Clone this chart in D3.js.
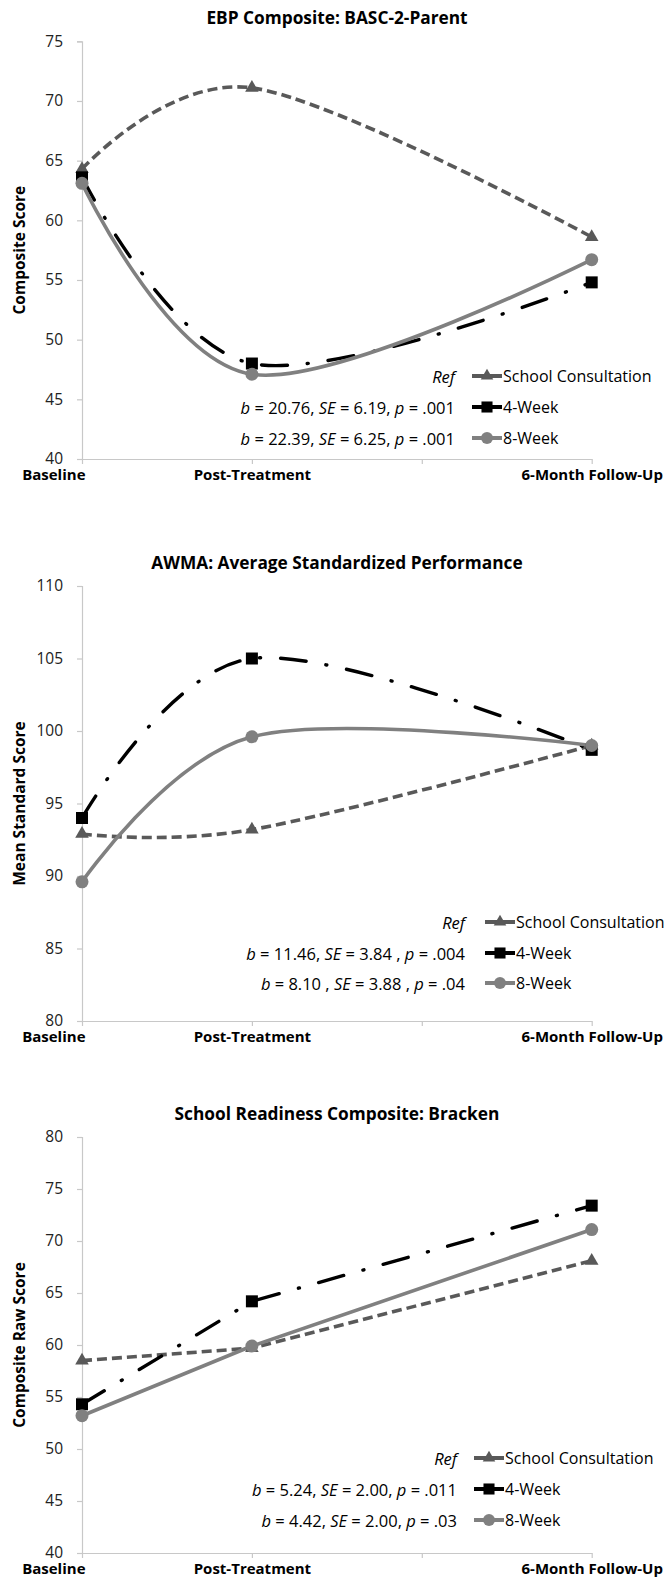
<!DOCTYPE html>
<html>
<head>
<meta charset="utf-8">
<script src="https://cdn.jsdelivr.net/npm/d3@7"></script>
<style>
  body { margin: 0; background: #fff; }
  svg { display: block; font-family: "Open Sans", "Noto Sans", sans-serif; }
</style>
</head>
<body>
<div class="main-container"></div>
<script>
// time points and groups
const timepoints = ["Baseline", "Post-Treatment", "6-Month Follow-Up"];
const timeX = [0, 1, 3];
const groups = ["School Consultation", "4-Week", "8-Week"];

// EBP composite (BASC-2 parent)
const ebpSchool = [64.3, 71.1, 58.6];
const ebp4Week = [63.6, 48.0, 54.8];
const ebp8Week = [63.1, 47.1, 56.7];
const ebpStats = ["Ref", "b = 20.76, SE = 6.19, p = .001", "b = 22.39, SE = 6.25, p = .001"];

// AWMA average standardized performance
const awmaSchool = [92.9, 93.2, 99.0];
const awma4Week = [94.0, 105.0, 98.7];
const awma8Week = [89.6, 99.6, 99.0];
const awmaStats = ["Ref", "b = 11.46, SE = 3.84 , p = .004", "b = 8.10 , SE = 3.88 , p = .04"];

// Bracken school readiness composite
const brackenSchool = [58.5, 59.7, 68.1];
const bracken4Week = [54.3, 64.2, 73.4];
const bracken8Week = [53.2, 59.9, 71.1];
const brackenStats = ["Ref", "b = 5.24, SE = 2.00, p = .011", "b = 4.42, SE = 2.00, p = .03"];

const ebpTicks = d3.range(40, 76, 5);
const awmaTicks = d3.range(80, 111, 5);
const brackenTicks = d3.range(40, 81, 5);

// series styling
const styles = [
  {color: "#595959", dash: "10 5", width: 3.6, cap: "butt", symbol: d3.symbolTriangle, size: 80},
  {color: "#000000", dash: "26 20 1 20", width: 3.4, cap: "round", symbol: d3.symbolSquare, size: 144},
  {color: "#808080", dash: null, width: 3.6, cap: "butt", symbol: d3.symbolCircle, size: 133}
];

const width = 667, height = 1581;
const svg = d3.select('.main-container').append('svg')
  .attr('width', width).attr('height', height);

const x = d3.scaleLinear().domain([0, 3]).range([82, 591.7]);

const panels = [
  {title: "EBP Composite: BASC-2-Parent", yLabel: "Composite Score", ticks: ebpTicks,
   top: 41.3, bottom: 459, smooth: true, series: [ebpSchool, ebp4Week, ebp8Week],
   stats: ebpStats, statX: 455, legendX: 472, rows: [376, 407, 438]},
  {title: "AWMA: Average Standardized Performance", yLabel: "Mean Standard Score", ticks: awmaTicks,
   top: 586, bottom: 1021, smooth: true, series: [awmaSchool, awma4Week, awma8Week],
   stats: awmaStats, statX: 465, legendX: 485, rows: [922, 953, 983]},
  {title: "School Readiness Composite: Bracken", yLabel: "Composite Raw Score", ticks: brackenTicks,
   top: 1137, bottom: 1553, smooth: false, series: [brackenSchool, bracken4Week, bracken8Week],
   stats: brackenStats, statX: 457, legendX: 474, rows: [1458, 1489, 1520]}
];

function drawPanel(p) {
  const g = svg.append('g');
  const y = d3.scaleLinear().domain(d3.extent(p.ticks)).range([p.bottom, p.top]);

  // title
  g.append('text')
    .attr('x', 337).attr('y', p.top - 24)
    .attr('text-anchor', 'middle').attr('dominant-baseline', 'central')
    .attr('font-size', 17.3).attr('font-weight', 'bold').attr('fill', '#000')
    .text(p.title);

  // y axis
  const ya = g.append('g').attr('transform', `translate(${x(0)},0)`)
    .call(d3.axisLeft(y).tickValues(p.ticks).tickSize(5).tickPadding(14));
  ya.select('.domain').attr('stroke', '#c8c8c8').attr('stroke-width', 1.2);
  ya.selectAll('.tick line').attr('stroke', '#c8c8c8').attr('stroke-width', 1.2);
  ya.selectAll('.tick text').attr('font-size', 15.5).attr('fill', '#222')
    .attr('font-family', '"Open Sans", sans-serif');

  // x axis
  const xa = g.append('g').attr('transform', `translate(0,${p.bottom})`)
    .call(d3.axisBottom(x).tickValues([0, 1, 2, 3]).tickSize(5).tickSizeOuter(0)
      .tickFormat(d => { const i = timeX.indexOf(d); return i < 0 ? "" : timepoints[i]; }));
  xa.select('.domain').attr('stroke', '#c8c8c8').attr('stroke-width', 1.2);
  xa.selectAll('.tick line').attr('stroke', '#c8c8c8').attr('stroke-width', 1.2);
  xa.selectAll('.tick text').attr('font-size', 15).attr('font-weight', 'bold').attr('fill', '#000')
    .attr('dy', 0).attr('y', 15).attr('dominant-baseline', 'central')
    .attr('font-family', '"Open Sans", sans-serif');
  // first category label sits left of the axis
  xa.selectAll('.tick text').filter(d => d === 0)
    .attr('text-anchor', 'end').attr('x', 3);

  // y label
  g.append('text')
    .attr('transform', `translate(19,${(p.top + p.bottom) / 2}) rotate(-90)`)
    .attr('text-anchor', 'middle').attr('dominant-baseline', 'central')
    .attr('font-size', 15.5).attr('font-weight', 'bold').attr('fill', '#000')
    .text(p.yLabel);

  const line = d3.line()
    .x((d, i) => x(timeX[i]))
    .y(d => y(d))
    .curve(p.smooth ? d3.curveCardinal.tension(0) : d3.curveLinear);

  p.series.forEach((s, k) => {
    const st = styles[k];
    g.append('path')
      .datum(s)
      .attr('d', line)
      .attr('fill', 'none')
      .attr('stroke', st.color)
      .attr('stroke-width', st.width)
      .attr('stroke-dasharray', st.dash)
      .attr('stroke-linecap', st.cap);
  });

  p.series.forEach((s, k) => {
    const st = styles[k];
    g.selectAll(null).data(s).join('path')
      .attr('transform', (d, i) => `translate(${x(timeX[i])},${y(d)})`)
      .attr('d', d3.symbol().type(st.symbol).size(st.size))
      .attr('fill', st.color);
  });

  // legend with stats
  groups.forEach((name, k) => {
    const st = styles[k];
    const ry = p.rows[k];
    const t = g.append('text')
      .attr('x', p.statX).attr('y', ry)
      .attr('text-anchor', 'end').attr('dominant-baseline', 'central')
      .attr('font-size', 16.5).attr('fill', '#000');
    p.stats[k].split(/(\bRef\b|\bb\b|\bSE\b|\bp\b)/).filter(d => d.length).forEach(part => {
      const it = /^(Ref|b|SE|p)$/.test(part);
      t.append('tspan').attr('font-style', it ? 'italic' : 'normal')
        .attr('xml:space', 'preserve').text(part);
    });

    g.append('line')
      .attr('x1', p.legendX).attr('x2', p.legendX + 30)
      .attr('y1', ry).attr('y2', ry)
      .attr('stroke', st.color).attr('stroke-width', 4);
    g.append('path')
      .attr('transform', `translate(${p.legendX + 15},${ry})`)
      .attr('d', d3.symbol().type(st.symbol).size(st.size * 0.85))
      .attr('fill', st.color);
    g.append('text')
      .attr('x', p.legendX + 31).attr('y', ry)
      .attr('dominant-baseline', 'central')
      .attr('font-size', 16).attr('fill', '#000')
      .text(name);
  });
}

panels.forEach(drawPanel);
</script>
</body>
</html>
